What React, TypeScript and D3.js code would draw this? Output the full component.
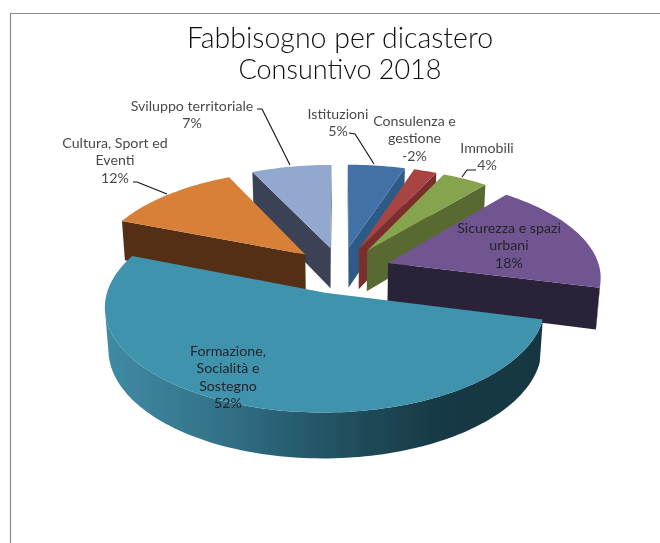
import React from "react";
import * as d3 from "d3";

const titleLines = ["Fabbisogno per dicastero", "Consuntivo 2018"];
const categories = ["Istituzioni", "Consulenza e gestione", "Immobili", "Sicurezza e spazi urbani", "Formazione, Socialità e Sostegno", "Cultura, Sport ed Eventi", "Sviluppo territoriale"];
const values = [5, 2, 4, 18, 52, 12, 7];

const topColors = ["#4271a8", "#a84542", "#86a34d", "#6f5490", "#4093ad", "#d87f38", "#93a8cf"];
const sideColors = ["#2f5a86", "#7b2f2e", "#586b33", "#2b2138", "#1b3f4c", "#542f13", "#3a4355"];

const labelLines = [
  ["Istituzioni", "5%"],
  ["Consulenza e", "gestione", "-2%"],
  ["Immobili", "4%"],
  ["Sicurezza e spazi", "urbani", "18%"],
  ["Formazione,", "Socialità e", "Sostegno", "52%"],
  ["Cultura, Sport ed", "Eventi", "12%"],
  ["Sviluppo territoriale", "7%"],
];
const labelAnchors = [
  [338, 119], [414.5, 126], [487, 153], [509, 233], [228, 356], [115, 148], [192, 111],
];
const leaders = [
  [[349, 133], [355, 134], [374, 164]],
  [],
  [[476, 170], [467, 170], [462, 177]],
  [],
  [],
  [[133, 182], [137, 182], [167, 194]],
  [[257, 109], [262, 109], [290, 165]],
];

const W = 660, H = 543;
const CX = 341, CY = 270;
const R = 212, EXPLODE = 50, DEPTH = 47;
const SIN_T = 0.465, COS_T = Math.sqrt(1 - SIN_T * SIN_T), CAM = 1500;

function project(x: number, y: number, z: number): [number, number] {
  const v = y * COS_T - z * SIN_T;
  const u = y * SIN_T + z * COS_T;
  const s = CAM / (CAM + v);
  return [CX + x * s, CY - u * s];
}

const lineGen = d3.line().curve(d3.curveLinear);
const pathOf = (pts: [number, number][]) => lineGen(pts) + "Z";

const arcs = d3.pie<number>().sort(null).startAngle(0).endAngle(2 * Math.PI)(values);
const camY = -CAM * COS_T;

const slices = arcs.map((a, i) => {
  const mid = (a.startAngle + a.endAngle) / 2;
  const ex = EXPLODE * Math.sin(mid), ey = EXPLODE * Math.cos(mid);
  const point = (ang: number, z: number) => project(ex + R * Math.sin(ang), ey + R * Math.cos(ang), z);
  const apex = (z: number) => project(ex, ey, z);
  const n = Math.max(2, Math.ceil((a.endAngle - a.startAngle) * 40));
  const angs = d3.range(n + 1).map((k) => a.startAngle + ((a.endAngle - a.startAngle) * k) / n);
  const top = pathOf([apex(0), ...angs.map((t) => point(t, 0))]);
  const faces: string[] = [];
  const seen = (nx: number, ny: number, px: number, py: number) =>
    nx * (0 - px) + ny * (camY - py) > 0;
  if (seen(-Math.cos(a.startAngle), Math.sin(a.startAngle), ex, ey))
    faces.push(pathOf([apex(0), point(a.startAngle, 0), point(a.startAngle, -DEPTH), apex(-DEPTH)]));
  if (seen(Math.cos(a.endAngle), -Math.sin(a.endAngle), ex, ey))
    faces.push(pathOf([apex(0), point(a.endAngle, 0), point(a.endAngle, -DEPTH), apex(-DEPTH)]));
  const wallAngs = angs.filter((t) => seen(Math.sin(t), Math.cos(t), ex + R * Math.sin(t), ey + R * Math.cos(t)));
  const wall = wallAngs.length > 1
    ? pathOf([...wallAngs.map((t) => point(t, 0)), ...wallAngs.slice().reverse().map((t) => point(t, -DEPTH))])
    : null;
  return { i, mid, top, faces, wall };
});
const drawOrder = slices.slice().sort((p, q) => Math.cos(q.mid) - Math.cos(p.mid));

const FRONT = values.indexOf(52);

export default function App() {
  return (
    <svg width={W} height={H} style={{ position: "absolute", left: 0, top: 0, background: "#fff" }}
      fontFamily="Lato, 'Open Sans', sans-serif">
      <defs>
        <linearGradient id="wallGrad" gradientUnits="userSpaceOnUse" x1={107} x2={543} y1={0} y2={0}>
          <stop offset="0" stopColor="#3f8aa3" />
          <stop offset="0.25" stopColor="#33738a" />
          <stop offset="0.5" stopColor="#235465" />
          <stop offset="0.75" stopColor="#183a46" />
          <stop offset="1" stopColor="#17363f" />
        </linearGradient>
        <filter id="soft" x="-5%" y="-5%" width="110%" height="110%">
          <feGaussianBlur stdDeviation="0.5" />
        </filter>
      </defs>
      <path d={`M10.5 ${H}V13.5H${W}`} fill="none" stroke="#8a8a8a" strokeWidth={1.2} />
      <g filter="url(#soft)">
        <g fill="#111" fontSize={28.5} fontWeight={300} textAnchor="middle">
          <text x={340} y={48}>{titleLines[0]}</text>
          <text x={340} y={79} fontSize={27}>{titleLines[1]}</text>
        </g>
        {drawOrder.map((s) => (
          <g key={categories[s.i]}>
            {s.wall && (
              <path d={s.wall} fill={s.i === FRONT ? "url(#wallGrad)" : sideColors[s.i]} />
            )}
            {s.faces.map((d, k) => (
              <path key={k} d={d} fill={sideColors[s.i]} />
            ))}
            <path d={s.top} fill={topColors[s.i]} />
          </g>
        ))}
        {leaders.map((pts, i) =>
          pts.length ? (
            <path key={i} d={d3.line()(pts as [number, number][]) as string} fill="none" stroke="#111" strokeWidth={1.1} />
          ) : null
        )}
        {labelLines.map((lines, i) => (
          <text key={i} fontSize={14.2} textAnchor="middle"
            fill={i === FRONT || i === 3 ? "#25252c" : "#4a4a4a"}>
            {lines.map((l, k) => (
              <tspan key={k} x={labelAnchors[i][0]} y={labelAnchors[i][1] + k * 17.3}>{l}</tspan>
            ))}
          </text>
        ))}
      </g>
    </svg>
  );
}
